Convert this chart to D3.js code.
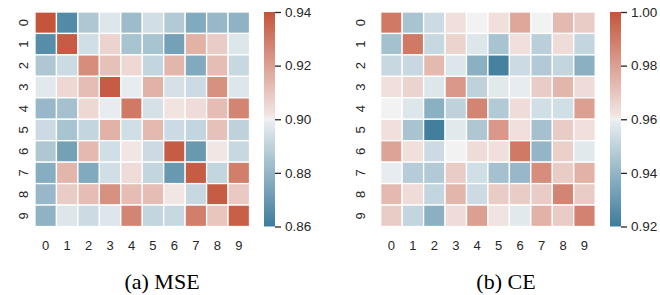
<!DOCTYPE html>
<html>
<head>
<meta charset="utf-8">
<script src="https://cdn.jsdelivr.net/npm/d3@7"></script>
<style>
  body { margin: 0; background: #fff; }
  svg { display: block; }
</style>
</head>
<body>
<div id="chart"></div>
<script>
// class indices along both axes
const classes = d3.range(10)

// MSE heatmap values (row = y label, col = x label)
const mseValues = [
  [0.940, 0.865, 0.886, 0.897, 0.882, 0.894, 0.887, 0.876, 0.881, 0.879],
  [0.866, 0.938, 0.894, 0.906, 0.885, 0.885, 0.873, 0.915, 0.908, 0.897],
  [0.886, 0.893, 0.925, 0.911, 0.905, 0.891, 0.914, 0.876, 0.912, 0.892],
  [0.898, 0.905, 0.912, 0.938, 0.899, 0.915, 0.895, 0.893, 0.924, 0.897],
  [0.881, 0.884, 0.905, 0.899, 0.930, 0.895, 0.902, 0.904, 0.912, 0.927],
  [0.893, 0.885, 0.891, 0.915, 0.894, 0.913, 0.893, 0.891, 0.911, 0.890],
  [0.886, 0.873, 0.913, 0.894, 0.901, 0.893, 0.938, 0.870, 0.901, 0.892],
  [0.877, 0.914, 0.876, 0.894, 0.904, 0.891, 0.870, 0.938, 0.891, 0.929],
  [0.881, 0.908, 0.912, 0.924, 0.912, 0.912, 0.901, 0.892, 0.938, 0.909],
  [0.879, 0.897, 0.893, 0.897, 0.927, 0.891, 0.892, 0.929, 0.910, 0.937]
]

// CE heatmap values
const ceValues = [
  [0.990, 0.945, 0.953, 0.963, 0.960, 0.963, 0.978, 0.960, 0.973, 0.968],
  [0.944, 0.990, 0.952, 0.966, 0.957, 0.945, 0.963, 0.949, 0.964, 0.951],
  [0.952, 0.952, 0.973, 0.957, 0.938, 0.922, 0.953, 0.947, 0.951, 0.938],
  [0.963, 0.966, 0.957, 0.982, 0.950, 0.958, 0.959, 0.968, 0.974, 0.964],
  [0.960, 0.957, 0.938, 0.950, 0.987, 0.947, 0.964, 0.954, 0.954, 0.980],
  [0.963, 0.945, 0.921, 0.958, 0.946, 0.982, 0.963, 0.944, 0.968, 0.963],
  [0.979, 0.963, 0.953, 0.960, 0.964, 0.963, 0.990, 0.940, 0.967, 0.958],
  [0.959, 0.948, 0.947, 0.968, 0.954, 0.944, 0.941, 0.985, 0.968, 0.975],
  [0.973, 0.964, 0.951, 0.974, 0.953, 0.968, 0.968, 0.968, 0.987, 0.968],
  [0.968, 0.951, 0.938, 0.964, 0.980, 0.962, 0.958, 0.975, 0.968, 0.988]
]

const mseTicks = [0.86, 0.88, 0.90, 0.92, 0.94]
const ceTicks = [0.92, 0.94, 0.96, 0.98, 1.00]

const panels = [
  { values: mseValues, ticks: mseTicks, domain: [0.86, 0.94], caption: "(a) MSE",
    left: 35, labelX: 23, barX: 264, captionX: 162 },
  { values: ceValues, ticks: ceTicks, domain: [0.92, 1.00], caption: "(b) CE",
    left: 380.7, labelX: 360, barX: 610, captionX: 506 }
]

const W = 660, H = 295
const TOP = 12, SIZE = 214.5, BAR_W = 11
const textColor = "#262626"

// seaborn diverging_palette(220, 20) style: blue -> light -> red
const cmap = d3.scaleLinear()
  .domain([0, 127 / 256, 0.5, 129 / 256, 1])
  .range(["#3d7c9b", "#e9eef1", "#f2f2f2", "#f3e9e7", "#c4553b"])
  .interpolate(d3.interpolateRgb)
  .clamp(true)

const svg = d3.select("#chart").append("svg")
  .attr("width", W)
  .attr("height", H)
  .style("font-family", "'Liberation Sans', Arial, sans-serif")

panels.forEach((p, pi) => {
  const g = svg.append("g")

  const x = d3.scaleBand().domain(classes).range([p.left, p.left + SIZE])
  const y = d3.scaleBand().domain(classes).range([TOP, TOP + SIZE])
  const norm = d3.scaleLinear().domain(p.domain).range([0, 1])

  const cells = []
  p.values.forEach((row, r) => row.forEach((v, c) => cells.push({ r, c, v })))

  g.selectAll("rect.cell")
    .data(cells)
    .join("rect")
      .attr("class", "cell")
      .attr("x", d => x(d.c))
      .attr("y", d => y(d.r))
      .attr("width", x.bandwidth())
      .attr("height", y.bandwidth())
      .attr("fill", d => cmap(norm(d.v)))
      .attr("stroke", "#fff")
      .attr("stroke-width", 1.3)

  // x tick labels
  g.selectAll("text.xl")
    .data(classes)
    .join("text")
      .attr("class", "xl")
      .attr("x", d => x(d) + x.bandwidth() / 2)
      .attr("y", 250)
      .attr("text-anchor", "middle")
      .attr("font-size", 13)
      .attr("fill", textColor)
      .text(d => d)

  // y tick labels, rotated
  g.selectAll("text.yl")
    .data(classes)
    .join("text")
      .attr("class", "yl")
      .attr("transform", d => `translate(${p.labelX},${y(d) + y.bandwidth() / 2}) rotate(-90)`)
      .attr("text-anchor", "middle")
      .attr("dy", "0.35em")
      .attr("font-size", 13)
      .attr("fill", textColor)
      .text(d => d)

  // colorbar
  const gradId = "grad" + pi
  const grad = svg.append("defs").append("linearGradient")
    .attr("id", gradId)
    .attr("x1", 0).attr("y1", 1).attr("x2", 0).attr("y2", 0)
  d3.range(0, 1.0001, 1 / 64).forEach(t => {
    grad.append("stop").attr("offset", t).attr("stop-color", cmap(t))
  })

  const barY = d3.scaleLinear().domain(p.domain).range([TOP + SIZE, TOP])

  g.append("rect")
    .attr("x", p.barX)
    .attr("y", TOP)
    .attr("width", BAR_W)
    .attr("height", SIZE)
    .attr("fill", `url(#${gradId})`)

  const axis = d3.axisRight(barY)
    .tickValues(p.ticks)
    .tickSize(6)
    .tickPadding(4)
    .tickFormat(d3.format(".2f"))

  const ax = g.append("g")
    .attr("transform", `translate(${p.barX + BAR_W},0)`)
    .call(axis)
  ax.select(".domain").remove()
  ax.selectAll("line").attr("stroke", textColor).attr("stroke-width", 1.3)
  ax.selectAll("text")
    .attr("font-size", 13.5)
    .attr("fill", textColor)
    .style("font-family", "'Liberation Sans', Arial, sans-serif")

  // caption
  g.append("text")
    .attr("x", p.captionX)
    .attr("y", 288.5)
    .attr("text-anchor", "middle")
    .attr("font-size", 22)
    .attr("fill", "#000")
    .style("font-family", "'Liberation Serif', 'Times New Roman', serif")
    .text(p.caption)
})
</script>
</body>
</html>
